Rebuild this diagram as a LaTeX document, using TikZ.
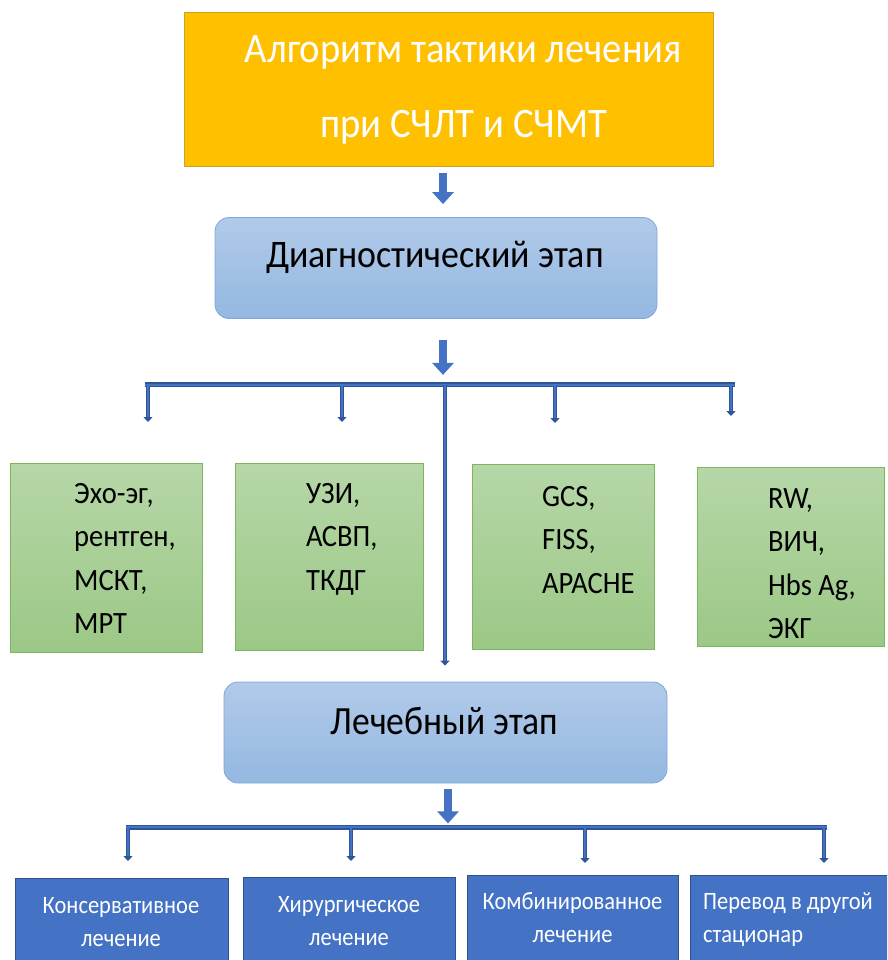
\documentclass[tikz,border=0pt]{standalone}
\usepackage{fontspec}
\setmainfont{Carlito}
\newfontfamily\condA{Carlito}[FakeStretch=0.92]
\newfontfamily\condB{Carlito}[FakeStretch=0.89]
\newfontfamily\condC{Carlito}[FakeStretch=0.90]
\usetikzlibrary{arrows.meta,calc}
\definecolor{gold}{HTML}{FFC000}
\definecolor{goldline}{HTML}{C9A227}
\definecolor{bluetop}{HTML}{B1CAE9}
\definecolor{bluebot}{HTML}{94B8E1}
\definecolor{blueline}{HTML}{7FA7D8}
\definecolor{greentop}{HTML}{B6D7A8}
\definecolor{greenbot}{HTML}{9CC886}
\definecolor{greenline}{HTML}{7DB65E}
\definecolor{darkblue}{HTML}{4472C4}
\definecolor{navy}{HTML}{2F5597}
\definecolor{boxline}{HTML}{2F528F}
\tikzset{
  titlebox/.style={draw=goldline, line width=0.8pt, fill=gold, inner sep=0pt},
  stagebox/.style={draw=blueline, line width=0.8pt, rounded corners=14pt, top color=bluetop, bottom color=bluebot, inner sep=0pt},
  greenbox/.style={draw=greenline, line width=0.8pt, top color=greentop, bottom color=greenbot, inner sep=0pt},
  treatbox/.style={draw=boxline, line width=0.8pt, fill=darkblue, inner sep=0pt},
  treattext/.style={anchor=north, inner sep=0pt, text=white, align=center, font=\condC\fontsize{25}{33.5}\selectfont},
  listtext/.style={anchor=north west, inner sep=0pt, align=left, font=\condA\fontsize{31}{43.5}\selectfont},
  bigarrow/.style={draw=darkblue, line width=8.5pt, -{Triangle[width=21pt,length=12pt]}},
  busout/.style={draw=navy, line width=5pt},
  busin/.style={draw=darkblue, line width=2pt},
  dropout/.style={draw=navy, line width=3.6pt, -{Triangle[width=9pt,length=5pt]}},
  dropin/.style={draw=darkblue, line width=1.2pt},
}
\newcommand{\toprule}[1]{\rule{0pt}{#1}}
\begin{document}
\begin{tikzpicture}[x=1pt,y=-1pt]
\useasboundingbox (0,0) rectangle (887,960);
\clip (0,0) rectangle (887,960);
% title
\node[titlebox, minimum width=529pt, minimum height=154pt] (top) at (448.5,89) {};
\node[anchor=north, inner sep=0pt, text=white, align=center, font=\condA\fontsize{42}{75}\selectfont] (toptext) at (463.5,28) {\toprule{34pt}Алгоритм тактики лечения\\при СЧЛТ и СЧМТ};
% diagnostic stage
\node[stagebox, minimum width=442pt, minimum height=101pt] (diag) at (436,268) {};
\node[anchor=base, inner sep=0pt, font=\condA\fontsize{39}{40}\selectfont] (diagtext) at (435,267) {Диагностический этап};
% treatment stage
\node[stagebox, minimum width=443pt, minimum height=101pt] (lech) at (445.5,732.5) {};
\node[anchor=base, inner sep=0pt, font=\condB\fontsize{40}{40}\selectfont] (lechtext) at (444.5,734) {Лечебный этап};
% block arrows
\draw[bigarrow] ([xshift=-5.5pt,yshift=-7pt]top.south) -- ([xshift=7pt,yshift=13pt]diag.north);
\draw[bigarrow] ([xshift=7pt,yshift=-21pt]diag.south) -- ([xshift=7pt,yshift=-56pt]diag.south);
\draw[bigarrow] ([xshift=2.5pt,yshift=-6pt]lech.south) -- ([xshift=2.5pt,yshift=-40pt]lech.south);
% green boxes
\node[greenbox, minimum width=192pt, minimum height=189pt] (g1) at (106,557.5) {};
\node[greenbox, minimum width=188pt, minimum height=187pt] (g2) at (329,556.5) {};
\node[greenbox, minimum width=182pt, minimum height=185pt] (g3) at (563,556.5) {};
\node[greenbox, minimum width=187pt, minimum height=179pt] (g4) at (790.5,556.5) {};
\node[listtext] (g1t) at (74,479) {\toprule{24pt}Эхо-эг,\\рентген,\\МСКТ,\\МРТ};
\node[listtext] (g2t) at (306,479) {\toprule{24pt}УЗИ,\\АСВП,\\ТКДГ};
\node[listtext] (g3t) at (542,482) {\toprule{24pt}GCS,\\FISS,\\APACHE};
\node[listtext] (g4t) at (768,484) {\toprule{24pt}RW,\\ВИЧ,\\Hbs Ag,\\ЭКГ};
% bus 1
\coordinate (b1L) at (145,384.5);
\coordinate (b1R) at (735,384.5);
\coordinate (b1C) at (445,384.5);
\coordinate (d1) at (148,422);
\coordinate (d2) at (342,422);
\coordinate (d3) at (555,423);
\coordinate (d4) at (731,416);
\draw[busout] (b1L) -- (b1R);
\foreach \d in {d1,d2,d3,d4} {
  \draw[dropout] (b1L -| \d) -- (\d);
  \draw[dropin] (b1L -| \d) -- ([yshift=5pt]\d);
}
\draw[busin] (b1L) -- (b1R);
\draw[dropout] (b1C) -- ([yshift=16pt]lech.north -| b1C);
\draw[dropin] (b1C) -- ([yshift=21pt]lech.north -| b1C);
% bus 2
\coordinate (b2L) at (126,827);
\coordinate (b2R) at (827,827);
\coordinate (e1) at (128,861);
\coordinate (e2) at (351,861);
\coordinate (e3) at (585,863);
\coordinate (e4) at (824,863);
\draw[busout] (b2L) -- (b2R);
\foreach \d in {e1,e2,e3,e4} {
  \draw[dropout] (b2L -| \d) -- (\d);
  \draw[dropin] (b2L -| \d) -- ([yshift=5pt]\d);
}
\draw[busin] (b2L) -- (b2R);
% treatment options
\node[treatbox, minimum width=213pt, minimum height=100pt] (t1) at (121.5,928) {};
\node[treatbox, minimum width=212pt, minimum height=100pt] (t2) at (349,927) {};
\node[treatbox, minimum width=211pt, minimum height=100pt] (t3) at (572.5,925) {};
\node[treatbox, minimum width=200pt, minimum height=100pt] (t4) at (790,925) {};
\node[treattext] (t1t) at (121,893) {\toprule{20pt}Консервативное\\лечение};
\node[treattext] (t2t) at (349,892) {\toprule{20pt}Хирургическое\\лечение};
\node[treattext] (t3t) at (572.5,889) {\toprule{20pt}Комбинированное\\лечение};
\node[treattext, anchor=north west, align=left] (t4t) at (703,889) {\toprule{20pt}Перевод в другой\\стационар};
\end{tikzpicture}
\end{document}
